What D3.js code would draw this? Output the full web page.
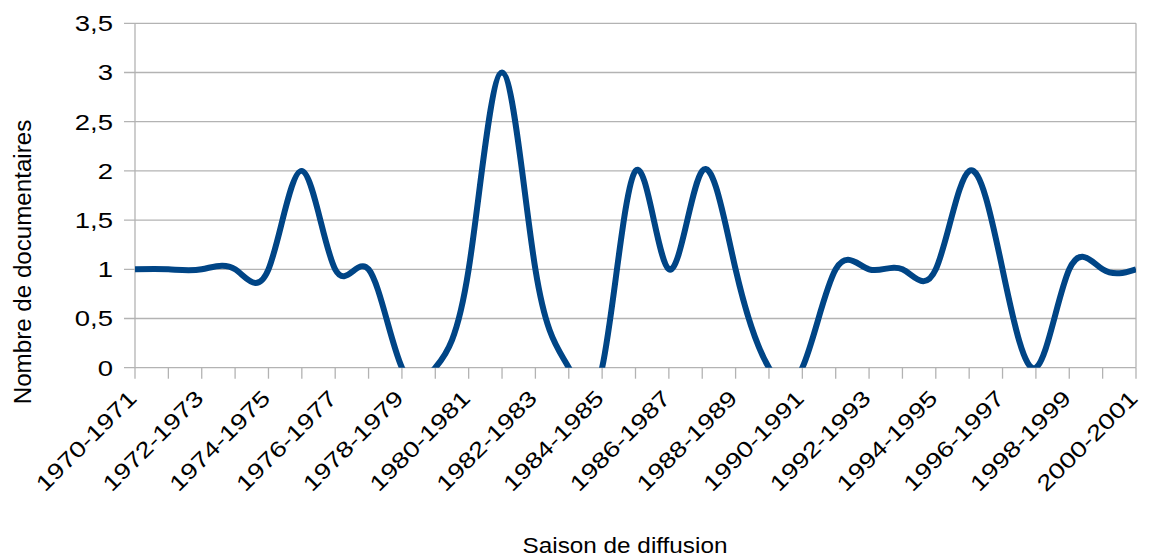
<!DOCTYPE html>
<html>
<head>
<meta charset="utf-8">
<script src="https://cdn.jsdelivr.net/npm/d3@7"></script>
<style>
  html, body { margin: 0; padding: 0; background: #fff; }
  svg { display: block; font-family: "Liberation Sans", Arial, sans-serif; }
</style>
</head>
<body>
<svg id="chart" width="1152" height="558"></svg>
<script>
// seasons (one point per season)
const seasons = [
  "1970-1971", "1971-1972", "1972-1973", "1973-1974", "1974-1975", "1975-1976",
  "1976-1977", "1977-1978", "1978-1979", "1979-1980", "1980-1981", "1981-1982",
  "1982-1983", "1983-1984", "1984-1985", "1985-1986", "1986-1987", "1987-1988",
  "1988-1989", "1989-1990", "1990-1991", "1991-1992", "1992-1993", "1993-1994",
  "1994-1995", "1995-1996", "1996-1997", "1997-1998", "1998-1999", "1999-2000",
  "2000-2001"
];

// number of documentaries per season
const counts = [
  1, 1, 1, 1, 1, 2, 1, 1, 0, 0, 1, 3, 1, 0, 0, 2,
  1, 2, 1, 0, 0, 1, 1, 1, 1, 2, 1, 0, 1, 1, 1
];

const yTicks = [0, 0.5, 1, 1.5, 2, 2.5, 3, 3.5];

const width = 1152;
const height = 558;
const margin = { top: 23.3, right: 16, bottom: 190.3, left: 135 };
const gridColor = "#b3b3b3";
const lineColor = "#004586";
const sx = 1.25; // glyphs in the original are drawn wider than normal

const svg = d3.select("#chart");

const x = d3
  .scalePoint()
  .domain(seasons)
  .range([margin.left, width - margin.right]);

const y = d3
  .scaleLinear()
  .domain([0, 3.5])
  .range([height - margin.bottom, margin.top]);

const fmt = (d) => String(d).replace(".", ",");

// horizontal grid lines + y ticks
svg
  .append("g")
  .selectAll("line")
  .data(yTicks)
  .join("line")
  .attr("x1", margin.left - 11)
  .attr("x2", width - margin.right)
  .attr("y1", (d) => y(d))
  .attr("y2", (d) => y(d))
  .attr("stroke", gridColor)
  .attr("stroke-width", 1.3);

// y axis line and right wall edge
svg
  .append("g")
  .selectAll("line")
  .data([margin.left, width - margin.right])
  .join("line")
  .attr("x1", (d) => d)
  .attr("x2", (d) => d)
  .attr("y1", margin.top)
  .attr("y2", y(0))
  .attr("stroke", gridColor)
  .attr("stroke-width", 1.3);

// x ticks
svg
  .append("g")
  .selectAll("line")
  .data(seasons)
  .join("line")
  .attr("x1", (d) => x(d))
  .attr("x2", (d) => x(d))
  .attr("y1", y(0))
  .attr("y2", y(0) + 11)
  .attr("stroke", gridColor)
  .attr("stroke-width", 1.3);

// y tick labels
svg
  .append("g")
  .selectAll("text")
  .data(yTicks)
  .join("text")
  .attr("transform", (d) => `translate(${margin.left - 22},${y(d)}) scale(${sx},1)`)
  .attr("text-anchor", "end")
  .attr("dy", "0.36em")
  .style("font-size", "22px")
  .style("fill", "#000")
  .text(fmt);

// x tick labels, every other season
svg
  .append("g")
  .selectAll("text")
  .data(seasons.filter((d, i) => i % 2 === 0))
  .join("text")
  .attr("transform", (d) => `translate(${x(d) + 3},${y(0) + 32}) rotate(-45) scale(${sx},1)`)
  .attr("text-anchor", "end")
  .style("font-size", "22px")
  .style("fill", "#000")
  .text((d) => d);

// clip the spline to the plot area
svg
  .append("defs")
  .append("clipPath")
  .attr("id", "plot-clip")
  .append("rect")
  .attr("x", margin.left)
  .attr("y", margin.top)
  .attr("width", width - margin.right - margin.left)
  .attr("height", y(0) - margin.top);

const line = d3
  .line()
  .x((d, i) => x(seasons[i]))
  .y((d) => y(d))
  .curve(d3.curveNatural);

svg
  .append("path")
  .datum(counts)
  .attr("clip-path", "url(#plot-clip)")
  .attr("fill", "none")
  .attr("stroke", lineColor)
  .attr("stroke-width", 6)
  .attr("stroke-linejoin", "round")
  .attr("d", line);

// axis titles
svg
  .append("text")
  .attr("transform", `translate(31,262) rotate(-90) scale(1.05,1)`)
  .attr("text-anchor", "middle")
  .style("font-size", "23px")
  .style("fill", "#000")
  .text("Nombre de documentaires");

svg
  .append("text")
  .attr("transform", `translate(625,553) scale(1.08,1)`)
  .attr("text-anchor", "middle")
  .style("font-size", "22.5px")
  .style("fill", "#000")
  .text("Saison de diffusion");
</script>
</body>
</html>
